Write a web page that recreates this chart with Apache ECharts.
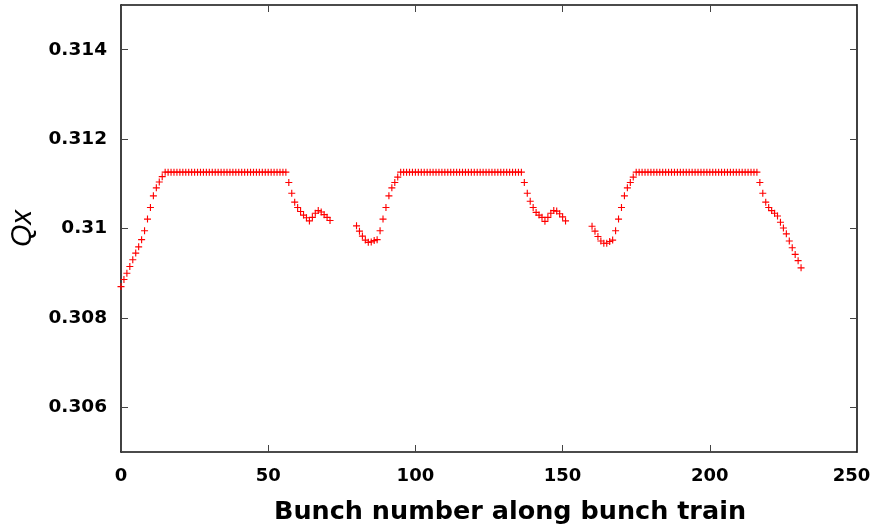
<!DOCTYPE html>
<html>
<head>
<meta charset="utf-8">
<script src="https://cdn.jsdelivr.net/npm/echarts@6/dist/echarts.min.js"></script>
<style>
  html, body { margin: 0; padding: 0; background: #ffffff; }
  #chart { width: 872px; height: 532px; }
</style>
</head>
<body>
<div id="chart"></div>
<script>
// Horizontal tune Qx per bunch, three bunch trains
const train1Start = 0;
const train1Qx = [
  0.30870, 0.30886, 0.30900, 0.30915, 0.30930, 0.30945, 0.30959, 0.30975, 0.30995, 0.31021,
  0.31047, 0.31073, 0.31091, 0.31104, 0.31116,
  0.31126, 0.31126, 0.31126, 0.31126, 0.31126, 0.31126, 0.31126, 0.31126, 0.31126, 0.31126,
  0.31126, 0.31126, 0.31126, 0.31126, 0.31126, 0.31126, 0.31126, 0.31126, 0.31126, 0.31126,
  0.31126, 0.31126, 0.31126, 0.31126, 0.31126, 0.31126, 0.31126, 0.31126, 0.31126, 0.31126,
  0.31126, 0.31126, 0.31126, 0.31126, 0.31126, 0.31126, 0.31126, 0.31126, 0.31126, 0.31126,
  0.31126, 0.31126,
  0.31103, 0.31079, 0.31059, 0.31047, 0.31038, 0.31030, 0.31024, 0.31017, 0.31025, 0.31034,
  0.31040, 0.31037, 0.31031, 0.31025, 0.31018
];

const train2Start = 80;
const train2Qx = [
  0.31006, 0.30994, 0.30983, 0.30974, 0.30969, 0.30970, 0.30973, 0.30975, 0.30995, 0.31021,
  0.31047, 0.31073, 0.31091, 0.31103, 0.31115,
  0.31126, 0.31126, 0.31126, 0.31126, 0.31126, 0.31126, 0.31126, 0.31126, 0.31126, 0.31126,
  0.31126, 0.31126, 0.31126, 0.31126, 0.31126, 0.31126, 0.31126, 0.31126, 0.31126, 0.31126,
  0.31126, 0.31126, 0.31126, 0.31126, 0.31126, 0.31126, 0.31126, 0.31126, 0.31126, 0.31126,
  0.31126, 0.31126, 0.31126, 0.31126, 0.31126, 0.31126, 0.31126, 0.31126, 0.31126, 0.31126,
  0.31126, 0.31126,
  0.31103, 0.31079, 0.31061, 0.31047, 0.31036, 0.31030, 0.31025, 0.31016, 0.31025, 0.31034,
  0.31040, 0.31039, 0.31033, 0.31026, 0.31017
];

const train3Start = 160;
const train3Qx = [
  0.31005, 0.30994, 0.30982, 0.30972, 0.30967, 0.30967, 0.30971, 0.30974, 0.30995, 0.31021,
  0.31047, 0.31073, 0.31091, 0.31103, 0.31115,
  0.31126, 0.31126, 0.31126, 0.31126, 0.31126, 0.31126, 0.31126, 0.31126, 0.31126, 0.31126,
  0.31126, 0.31126, 0.31126, 0.31126, 0.31126, 0.31126, 0.31126, 0.31126, 0.31126, 0.31126,
  0.31126, 0.31126, 0.31126, 0.31126, 0.31126, 0.31126, 0.31126, 0.31126, 0.31126, 0.31126,
  0.31126, 0.31126, 0.31126, 0.31126, 0.31126, 0.31126, 0.31126, 0.31126, 0.31126, 0.31126,
  0.31126, 0.31126,
  0.31103, 0.31079, 0.31059, 0.31047, 0.31040, 0.31034, 0.31028, 0.31014, 0.31001, 0.30988,
  0.30972, 0.30957, 0.30942, 0.30928, 0.30912
];

// Axis ticks
const xTickValues = [0, 50, 100, 150, 200, 250];
const yTickValues = [0.306, 0.308, 0.31, 0.312, 0.314];
const xRange = [0, 250];
const yRange = [0.305, 0.315];

const xTitle = 'Bunch number along bunch train';
const yTitle = 'Qx';

// Pair each tune with its bunch number
function trainPoints(start, values) {
  return values.map((q, i) => [start + i, q]);
}
const points = []
  .concat(trainPoints(train1Start, train1Qx))
  .concat(trainPoints(train2Start, train2Qx))
  .concat(trainPoints(train3Start, train3Qx));

// "+" marker drawn as a thin filled cross
const plusSymbol = 'path://M-0.16,-1 L0.16,-1 L0.16,-0.16 L1,-0.16 L1,0.16 L0.16,0.16 L0.16,1 L-0.16,1 L-0.16,0.16 L-1,0.16 L-1,-0.16 L-0.16,-0.16 Z';

const labelFont = "'DejaVu Sans', 'Liberation Sans', Arial, sans-serif";
const nameFont = "'Liberation Sans', Arial, Helvetica, sans-serif";
const frameLine = { color: '#111', width: 1.6 };
const tickLine = { color: '#444', width: 1 };
const xLabelStyle = { fontFamily: labelFont, fontWeight: 'bold', fontSize: 18, color: '#000' };

const chart = echarts.init(document.getElementById('chart'), null, { renderer: 'canvas' });
chart.setOption({
  animation: false,
  backgroundColor: '#ffffff',
  grid: { left: 121, right: 15, top: 5, bottom: 80, containLabel: false, outerBoundsMode: 'none' },
  xAxis: [
    {
      type: 'value',
      position: 'bottom',
      min: xRange[0],
      max: xRange[1],
      interval: xTickValues[1] - xTickValues[0],
      name: xTitle,
      nameLocation: 'middle',
      nameGap: 47,
      nameTextStyle: { fontFamily: labelFont, fontWeight: 'bold', fontSize: 25.5, color: '#000',
                       padding: [0, 0, 0, 42] },
      axisLine: { show: true, onZero: false, lineStyle: frameLine },
      axisTick: { show: true, inside: true, length: 7, lineStyle: tickLine },
      axisLabel: Object.assign({
        show: true,
        margin: 15,
        customValues: xTickValues,
        // keep the last label inside the canvas edge
        formatter: (v) => (v === xRange[1] ? '{edge|' + v + '}' : String(v)),
        rich: { edge: Object.assign({ padding: [0, 11, 0, 0] }, xLabelStyle) }
      }, xLabelStyle),
      splitLine: { show: false }
    },
    {
      type: 'value',
      position: 'top',
      min: xRange[0],
      max: xRange[1],
      interval: xTickValues[1] - xTickValues[0],
      axisLine: { show: true, onZero: false, lineStyle: frameLine },
      axisTick: { show: true, inside: true, length: 7, lineStyle: tickLine },
      axisLabel: { show: false },
      splitLine: { show: false }
    }
  ],
  yAxis: [
    {
      type: 'value',
      position: 'left',
      min: yRange[0],
      max: yRange[1],
      name: yTitle,
      nameLocation: 'middle',
      nameGap: 80,
      nameRotate: 90,
      nameTextStyle: { fontFamily: nameFont, fontStyle: 'italic', fontSize: 29, color: '#000' },
      axisLine: { show: true, onZero: false, lineStyle: frameLine },
      axisTick: { show: true, inside: true, length: 7, lineStyle: tickLine, customValues: yTickValues },
      axisLabel: { show: true, margin: 14, fontFamily: labelFont, fontWeight: 'bold', fontSize: 18.5, color: '#000',
                   customValues: yTickValues },
      splitLine: { show: false }
    },
    {
      type: 'value',
      position: 'right',
      min: yRange[0],
      max: yRange[1],
      axisLine: { show: true, onZero: false, lineStyle: frameLine },
      axisTick: { show: true, inside: true, length: 7, lineStyle: tickLine, customValues: yTickValues },
      axisLabel: { show: false },
      splitLine: { show: false }
    }
  ],
  series: [
    {
      name: 'Qx',
      type: 'scatter',
      xAxisIndex: 0,
      yAxisIndex: 0,
      data: points,
      symbol: plusSymbol,
      symbolSize: 7,
      itemStyle: { color: '#ff0000', opacity: 1 },
      emphasis: { disabled: true },
      silent: true
    }
  ]
});
</script>
</body>
</html>
